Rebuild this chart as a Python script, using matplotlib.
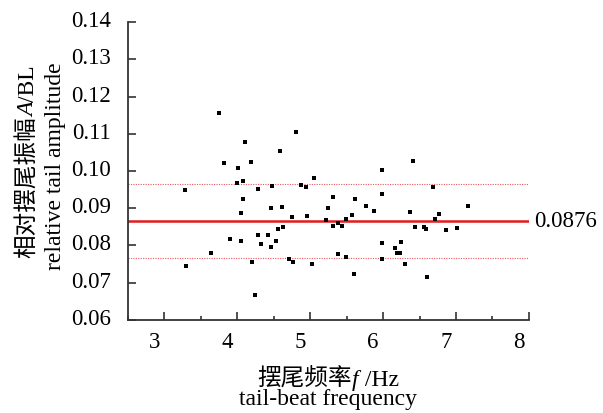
import numpy as np
import matplotlib.pyplot as plt
import matplotlib.transforms as mtransforms
from matplotlib.ticker import MultipleLocator

plt.rcParams['font.family'] = ['Liberation Serif', 'Noto Sans CJK SC']

# tail-beat frequency (Hz) and relative tail amplitude (A/BL)
freq = [3.742, 4.105, 3.82, 4.005, 4.183, 3.99, 4.074, 3.286, 4.283, 4.083,
        4.056, 3.906, 4.046, 4.283, 3.64, 4.206, 3.296, 4.241,
        4.80, 4.583, 4.469, 4.869, 4.937, 5.046, 4.456, 4.619, 5.319, 5.62,
        5.247, 5.761, 5.875, 4.75, 4.951, 5.21, 5.497, 5.579, 5.306, 5.388,
        5.438, 4.633, 4.555, 4.424, 4.324, 4.524, 4.465, 4.71, 4.76, 5.02,
        5.388, 5.488, 5.606,
        6.416, 5.988, 6.684, 5.98, 7.17, 6.366, 6.771, 6.707, 6.438, 6.556,
        6.588, 6.861, 7.02, 5.988, 6.247, 6.157, 6.188, 6.239, 5.988, 6.307,
        6.607]
amp = [0.1155, 0.1079, 0.1021, 0.1007, 0.1024, 0.0967, 0.0974, 0.0949, 0.0951, 0.0924,
       0.0887, 0.0817, 0.0813, 0.0827, 0.0779, 0.0756, 0.0744, 0.0666,
       0.1105, 0.1053, 0.0959, 0.0963, 0.0958, 0.0980, 0.0901, 0.0903, 0.0930, 0.0926,
       0.0901, 0.0905, 0.0893, 0.0877, 0.0879, 0.0869, 0.0871, 0.0881, 0.0852, 0.0860,
       0.0853, 0.0850, 0.0843, 0.0827, 0.0803, 0.0812, 0.0796, 0.0763, 0.0755, 0.0750,
       0.0777, 0.0769, 0.0723,
       0.1028, 0.1002, 0.0956, 0.0938, 0.0907, 0.0889, 0.0885, 0.0871, 0.0850, 0.0850,
       0.0843, 0.0842, 0.0848, 0.0806, 0.0809, 0.0793, 0.0779, 0.0779, 0.0764, 0.0751,
       0.0716]

mean_line = 0.0865
sd = 0.0099
mean_label = '0.0876'

SERIF = ['Liberation Serif', 'Noto Sans CJK SC']
CJK = ['Noto Sans CJK SC', 'Liberation Serif']

W, H = 603, 413
fig = plt.figure(figsize=(W / 100, H / 100), dpi=100)
ax = fig.add_axes([0.2123, 0.2252, 0.877 - 0.2123, 0.9467 - 0.2252])

ax.plot(freq, amp, 's', color='black', markersize=2.2, markeredgewidth=0)

ax.axhline(mean_line, color='#e41a1c', lw=1.8, zorder=1)
ax.axhline(mean_line + sd, color='#e8595c', lw=0.8, ls=(0, (1, 1.2)), zorder=1)
ax.axhline(mean_line - sd, color='#e8595c', lw=0.8, ls=(0, (1, 1.2)), zorder=1)

ax.text(1.012, mean_line, mean_label, transform=ax.get_yaxis_transform(),
        ha='left', va='center', fontsize=16.5)

ax.set_xlim(2.5, 8.0)
ax.set_ylim(0.06, 0.14)
ax.xaxis.set_major_locator(MultipleLocator(1))
ax.xaxis.set_minor_locator(MultipleLocator(0.5))
ax.yaxis.set_major_locator(MultipleLocator(0.01))
ax.yaxis.set_major_formatter(plt.FuncFormatter(lambda v, p: f'{v:.2f}'))

for s in ['top', 'right']:
    ax.spines[s].set_visible(False)
for s in ['left', 'bottom']:
    ax.spines[s].set_color('#333333')
    ax.spines[s].set_linewidth(1.3)

ax.tick_params(axis='both', which='major', direction='in', length=6, width=1.2,
               color='#333333', labelsize=16.5)
ax.tick_params(axis='x', which='minor', direction='in', length=3, width=1.2, color='#333333')
ax.tick_params(axis='x', which='major', pad=9)
ax.tick_params(axis='y', which='major', pad=12)

# the original figure has its x tick labels set slightly left of the ticks
dx = mtransforms.ScaledTranslation(-10 / 100, 0, fig.dpi_scale_trans)
for lab in ax.get_xticklabels():
    lab.set_transform(lab.get_transform() + dx)
dy = mtransforms.ScaledTranslation(0, 3 / 100, fig.dpi_scale_trans)
for lab in ax.get_yticklabels():
    lab.set_transform(lab.get_transform() + dy)


def label_line(pieces, cx, cy, rotation=0, size=17):
    # pieces: (text, family, style); cx, cy: centre / baseline in pixels from top-left
    renderer = fig.canvas.get_renderer()
    texts = []
    widths = []
    for s, fam, st in pieces:
        wt = 'light' if fam is CJK else 'normal'
        t = fig.text(0, 0, s, family=fam, style=st, fontsize=size, fontweight=wt,
                     ha='left', va='baseline', rotation_mode='anchor')
        widths.append(t.get_window_extent(renderer).width)
        texts.append(t)
    pos = -sum(widths) / 2
    for t, w in zip(texts, widths):
        if rotation == 0:
            x, y = cx + pos, cy
        else:
            x, y = cx, cy - pos
        t.set_position((x / W, 1 - y / H))
        t.set_rotation(rotation)
        pos += w


label_line([('摆尾频率', CJK, 'normal'), ('f', SERIF, 'italic'), (' /Hz', SERIF, 'normal')], 328, 386)
label_line([('tail-beat frequency', SERIF, 'normal')], 328, 405)
label_line([('相对摆尾振幅', CJK, 'normal'), ('A', SERIF, 'italic'), ('/BL', SERIF, 'normal')],
           34, 162, rotation=90)
label_line([('relative tail amplitude', SERIF, 'normal')], 61, 166, rotation=90)

fig.savefig('out.png', dpi=100)
